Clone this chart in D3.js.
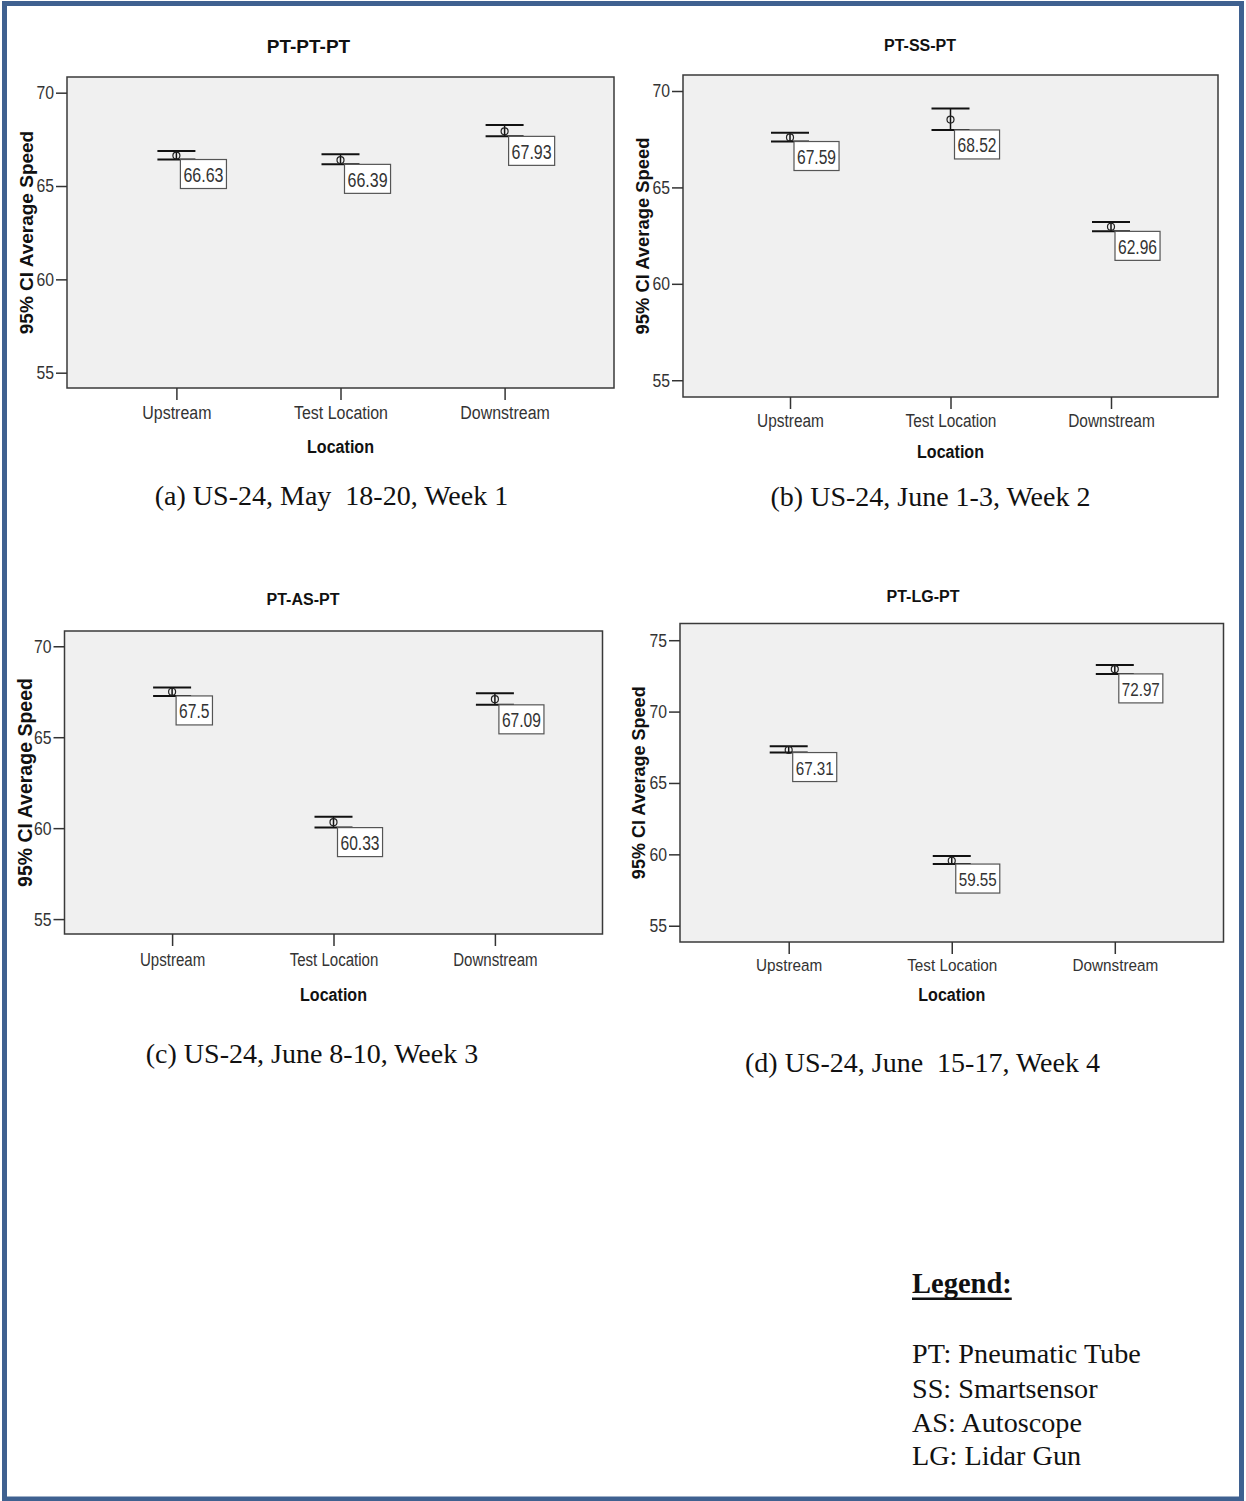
<!DOCTYPE html>
<html><head><meta charset="utf-8">
<script src="https://cdn.jsdelivr.net/npm/d3@7"></script>
<style>body{margin:0;background:#fff}</style>
</head><body><svg id="chart" width="1246" height="1501"></svg>
<script>
// ---------- DATA ----------
const locations = ["Upstream", "Test Location", "Downstream"];
const panelTitles = ["PT-PT-PT", "PT-SS-PT", "PT-AS-PT", "PT-LG-PT"];
const captions = [
  "(a) US-24, May  18-20, Week 1",
  "(b) US-24, June 1-3, Week 2",
  "(c) US-24, June 8-10, Week 3",
  "(d) US-24, June  15-17, Week 4"
];
const yAxisTitle = "95% CI Average Speed";
const xAxisTitle = "Location";

const meansA = [66.63, 66.39, 67.93];
const lowA   = [66.42, 66.16, 67.66];
const highA  = [66.88, 66.70, 68.27];

const meansB = [67.59, 68.52, 62.96];
const lowB   = [67.38, 67.98, 62.72];
const highB  = [67.84, 69.09, 63.21];

const meansC = [67.5, 60.33, 67.09];
const lowC   = [67.27, 60.03, 66.78];
const highC  = [67.73, 60.63, 67.42];

const meansD = [67.31, 59.55, 72.97];
const lowD   = [67.13, 59.32, 72.64];
const highD  = [67.57, 59.88, 73.27];

const yTicksABC = [55, 60, 65, 70];
const yTicksD   = [55, 60, 65, 70, 75];
const yDomainA = [54.18, 70.84];
const yDomainB = [54.13, 70.83];
const yDomainC = [54.18, 70.84];
const yDomainD = [53.86, 76.17];

const legendTitle = "Legend:";
const legendItems = ["PT: Pneumatic Tube", "SS: Smartsensor", "AS: Autoscope", "LG: Lidar Gun"];

// ---------- LAYOUT ----------
const series = [
  {means: meansA, low: lowA, high: highA, ticks: yTicksABC, dom: yDomainA},
  {means: meansB, low: lowB, high: highB, ticks: yTicksABC, dom: yDomainB},
  {means: meansC, low: lowC, high: highC, ticks: yTicksABC, dom: yDomainC},
  {means: meansD, low: lowD, high: highD, ticks: yTicksD, dom: yDomainD}
];
const layout = [
  {x0:67,  x1:614,   y0:77,    y1:388, tx:308.5, ty:53,  ts:19, ylx:26,    yls:19,   tk:19,   tsx:0.84, tdy:31,   ldy:64.7, cx:331.5, cy:505,  vs:20},
  {x0:683, x1:1218,  y0:75,    y1:397, tx:920,   ty:51,  ts:16, ylx:642,   yls:18.4, tk:18.6, tsx:0.83, tdy:30,   ldy:60.6, cx:930.5, cy:506,  vs:19.5},
  {x0:64.5,x1:602.5, y0:631,   y1:934, tx:303,   ty:605, ts:16, ylx:25,    yls:19.5, tk:18.6, tsx:0.81, tdy:32,   ldy:66.7, cx:312,   cy:1063, vs:19.5},
  {x0:680, x1:1223.5,y0:623.5, y1:942, tx:923,   ty:602, ts:16, ylx:638.5, yls:18,   tk:17.2, tsx:0.89, tdy:29.4, ldy:59.4, cx:922.5, cy:1072, vs:19}
];

const svg = d3.select("#chart");
const SANS = "'Liberation Sans', Arial, sans-serif";
const SERIF = "'Liberation Serif', 'Times New Roman', serif";

// outer frame
svg.append("rect").attr("x", 4.5).attr("y", 3.5).attr("width", 1237).attr("height", 1495.5)
  .attr("fill", "#fff").attr("stroke", "#3f6190").attr("stroke-width", 5);

series.forEach((s, i) => {
  const L = layout[i];
  const g = svg.append("g");
  const x = d3.scalePoint().domain(locations).range([L.x0, L.x1]).padding(2/3);
  const y = d3.scaleLinear().domain(s.dom).range([L.y1, L.y0]);

  // plot area
  g.append("rect").attr("x", L.x0).attr("y", L.y0).attr("width", L.x1 - L.x0).attr("height", L.y1 - L.y0)
    .attr("fill", "#f0f0f0").attr("stroke", "#3a3a3a").attr("stroke-width", 1.5);

  // y axis
  const ya = g.append("g").attr("transform", `translate(${L.x0},0)`)
    .call(d3.axisLeft(y).tickValues(s.ticks).tickSize(11).tickSizeOuter(0).tickPadding(2));
  ya.select(".domain").remove();
  ya.selectAll(".tick line").attr("stroke", "#333").attr("stroke-width", 1.5);
  ya.selectAll(".tick text").attr("font-family", SANS).attr("font-size", 17.5).attr("fill", "#333")
    .attr("transform", "scale(0.9,1)").attr("x", -13 / 0.9).attr("dy", "0.34em");

  // x axis
  const xa = g.append("g").attr("transform", `translate(0,${L.y1})`)
    .call(d3.axisBottom(x).tickSize(12).tickSizeOuter(0));
  xa.select(".domain").remove();
  xa.selectAll(".tick line").attr("stroke", "#333").attr("stroke-width", 1.5);
  xa.selectAll(".tick text").attr("font-family", SANS).attr("font-size", L.tk).attr("fill", "#333")
    .attr("y", L.tdy).attr("dy", 0).attr("transform", `scale(${L.tsx},1)`);

  // titles
  g.append("text").attr("x", L.tx).attr("y", L.ty).attr("text-anchor", "middle")
    .attr("font-family", SANS).attr("font-weight", "bold").attr("font-size", L.ts).attr("fill", "#111")
    .text(panelTitles[i]);
  const midX = x(locations[1]);
  g.append("text").attr("transform", `translate(${midX},${L.y1 + L.ldy}) scale(0.865,1)`)
    .attr("text-anchor", "middle").attr("font-family", SANS).attr("font-weight", "bold")
    .attr("font-size", 18.6).attr("fill", "#111").text(xAxisTitle);
  const cyMid = (L.y0 + L.y1) / 2;
  g.append("text").attr("transform", `translate(${L.ylx + L.yls * 0.36},${cyMid}) rotate(-90)`)
    .attr("text-anchor", "middle").attr("font-family", SANS).attr("font-weight", "bold")
    .attr("font-size", L.yls).attr("fill", "#111").text(yAxisTitle);

  // error bars
  const hw = 19;
  locations.forEach((loc, j) => {
    const cx = x(loc);
    g.append("line").attr("x1", cx).attr("x2", cx).attr("y1", y(s.high[j])).attr("y2", y(s.low[j]))
      .attr("stroke", "#111").attr("stroke-width", 1.5);
    g.append("line").attr("x1", cx - hw).attr("x2", cx + hw).attr("y1", y(s.high[j])).attr("y2", y(s.high[j]))
      .attr("stroke", "#111").attr("stroke-width", 2);
    g.append("line").attr("x1", cx - hw).attr("x2", cx + hw).attr("y1", y(s.low[j])).attr("y2", y(s.low[j]))
      .attr("stroke", "#111").attr("stroke-width", 2);
    g.append("circle").attr("cx", cx).attr("cy", y(s.means[j])).attr("r", 3.5)
      .attr("fill", "none").attr("stroke", "#222").attr("stroke-width", 1.2);

    // value label box
    const bx = cx + 4, by = y(s.low[j]);
    const box = g.append("rect").attr("x", bx).attr("y", by).attr("height", 29)
      .attr("fill", "#fff").attr("stroke", "#555").attr("stroke-width", 1.2);
    const sx = 0.8;
    const t = g.append("text").attr("font-family", SANS).attr("font-size", L.vs).attr("fill", "#333")
      .text(String(s.means[j]));
    const tw = t.node().getComputedTextLength() * sx;
    t.attr("transform", `translate(${bx + 3},${by + 22.4}) scale(${sx},1)`);
    box.attr("width", tw + 6);
  });

  // caption
  svg.append("text").attr("x", L.cx).attr("y", L.cy).attr("text-anchor", "middle")
    .attr("font-family", SERIF).attr("font-size", 28).attr("fill", "#111")
    .style("white-space", "pre").text(captions[i]);
});

// legend
const lg = svg.append("text").attr("x", 912).attr("y", 1293).attr("font-family", SERIF)
  .attr("font-weight", "bold").attr("font-size", 28.5).attr("fill", "#111").text(legendTitle);
const lw = lg.node().getComputedTextLength();
svg.append("line").attr("x1", 912).attr("x2", 912 + lw).attr("y1", 1298.7).attr("y2", 1298.7)
  .attr("stroke", "#111").attr("stroke-width", 2.5);
const legendY = [1363.3, 1398.3, 1431.7, 1465];
legendItems.forEach((d, k) => {
  svg.append("text").attr("x", 912).attr("y", legendY[k]).attr("font-family", SERIF)
    .attr("font-size", 28.2).attr("fill", "#111").text(d);
});
</script></body></html>
